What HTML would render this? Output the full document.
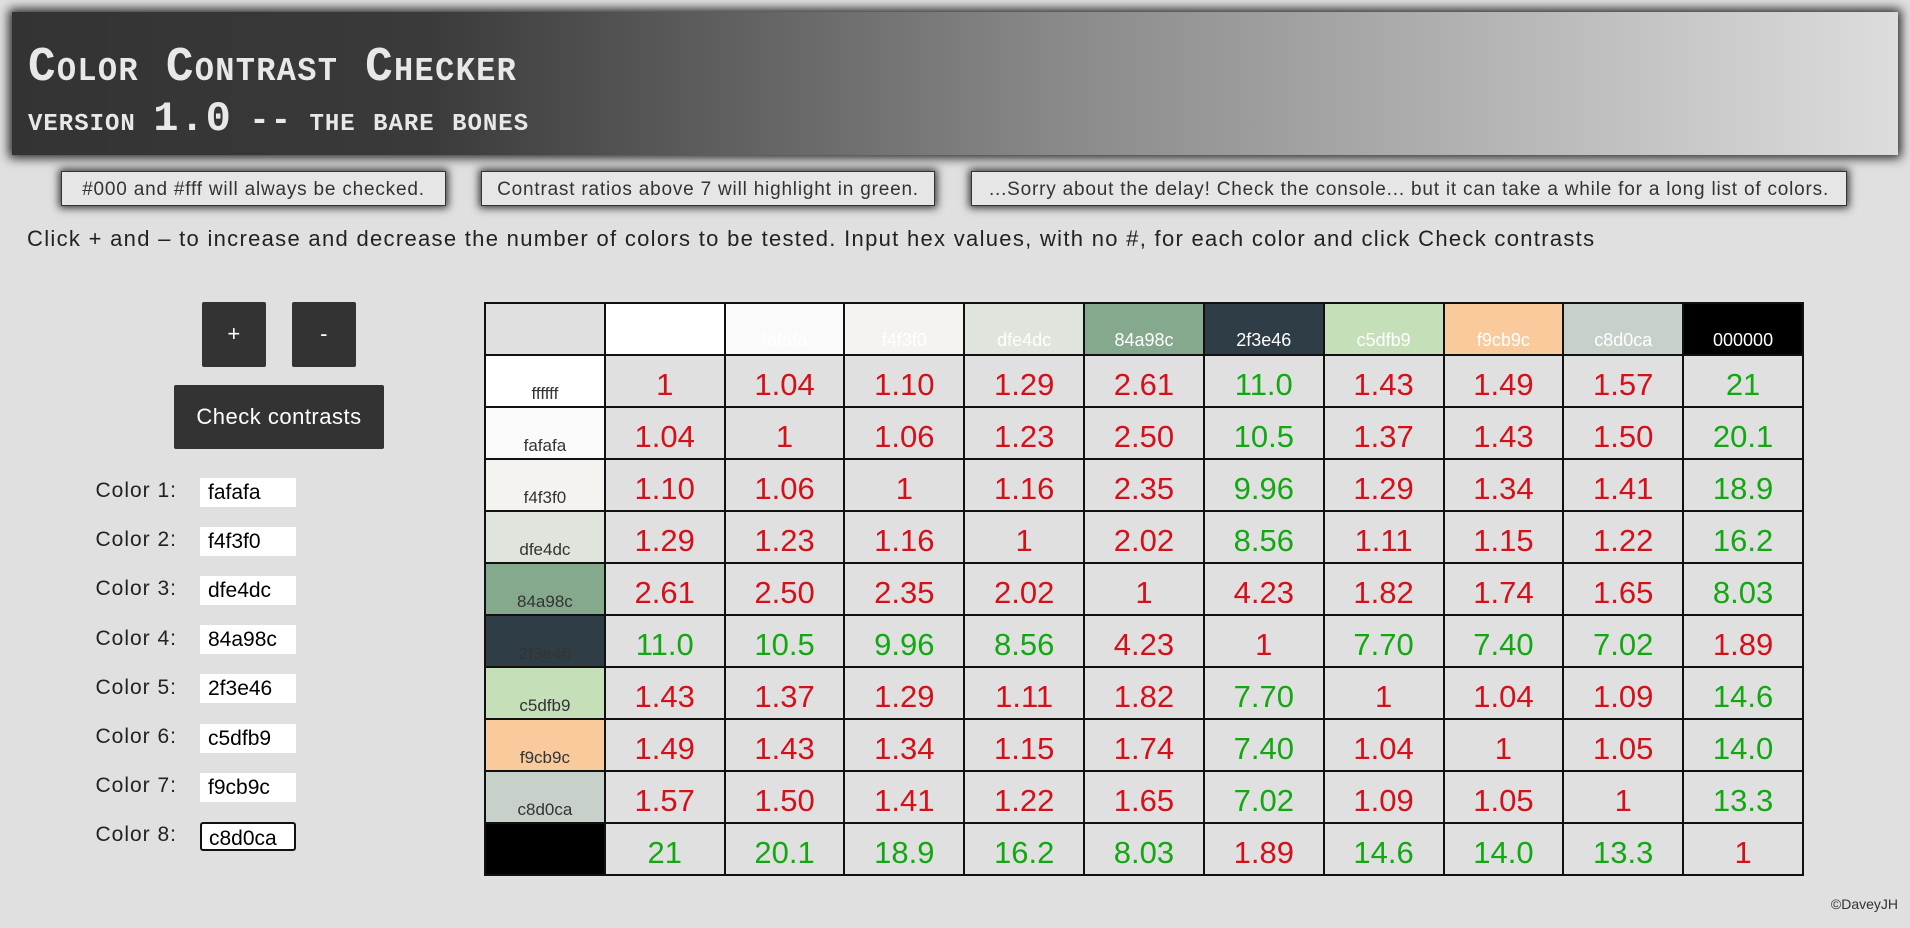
<!DOCTYPE html>
<html><head><meta charset="utf-8">
<style>
body{margin:0;width:1910px;height:928px;background:#e0e0e0;font-family:"Liberation Sans",sans-serif;position:relative;overflow:hidden;color:#222}
#hdr{position:absolute;left:12px;top:12px;width:1886px;height:143px;background:linear-gradient(90deg,#333 0%,#3a3a3a 22%,#888 55%,#ddd 100%);box-shadow:0 0 10px 3px #222;}
#hdr h1{position:absolute;left:16px;top:28px;margin:0;font-family:"Liberation Mono",monospace;font-variant:small-caps;font-weight:bold;font-size:46px;color:#e8e8e8;letter-spacing:1.3px;word-spacing:-2px;transform:scaleY(1.05);transform-origin:left top}
#hdr h2{position:absolute;left:16px;top:83px;margin:0;font-family:"Liberation Mono",monospace;font-variant:small-caps;font-weight:bold;font-size:34px;color:#e8e8e8;text-transform:lowercase;letter-spacing:1px;word-spacing:-4px}
.note{position:absolute;top:171px;height:35px;line-height:35px;background:#e6e6e6;border:1px solid #333;box-shadow:0 0 8px 2px #333;font-size:19px;color:#333;text-align:center;box-sizing:border-box;letter-spacing:0.8px;white-space:nowrap}
#instr{position:absolute;left:27px;top:226px;font-size:22px;color:#222;letter-spacing:1.3px;white-space:nowrap}
.btn{position:absolute;background:#333;color:#fff;font-size:22px;text-align:center;border-radius:2px;letter-spacing:0.5px}
.lbl{position:absolute;width:177px;text-align:right;font-size:21px;color:#222;left:0;letter-spacing:1px}
.inp{position:absolute;left:200px;width:96px;height:29px;background:#fff;font-size:21px;line-height:29px;padding-left:8px;box-sizing:border-box;color:#000}
#tbl{position:absolute;left:484px;top:302px;border-collapse:collapse;border:2px solid #111;table-layout:fixed;width:1320px}
#tbl td{box-sizing:border-box;height:52px;border:2px solid #111;text-align:center;padding:7px 0 0 0;background:#e0e0e0;font-size:31px;line-height:1;overflow:hidden}
#tbl td.h{font-size:18px;vertical-align:bottom;padding:0 0 5px 0;color:#fff}
#tbl td.r{font-size:17px;vertical-align:bottom;padding:0 0 4px 0;color:#333}
#foot{position:absolute;right:12px;top:896px;font-size:14px;color:#333}
</style></head><body>
<div id="hdr">
<h1>Color Contrast Checker</h1>
<h2>version <span style="font-size:42px">1.0</span> -- the bare bones</h2>
</div>
<div class="note" style="left:61px;width:385px">#000 and #fff will always be checked.</div>
<div class="note" style="left:481px;width:454px">Contrast ratios above 7 will highlight in green.</div>
<div class="note" style="left:971px;width:876px">...Sorry about the delay! Check the console... but it can take a while for a long list of colors.</div>
<div id="instr">Click + and – to increase and decrease the number of colors to be tested. Input hex values, with no #, for each color and click Check contrasts</div>
<div class="btn" style="left:202px;top:302px;width:64px;height:65px;line-height:63px">+</div>
<div class="btn" style="left:292px;top:302px;width:64px;height:65px;line-height:63px">-</div>
<div class="btn" style="left:174px;top:385px;width:210px;height:64px;line-height:64px">Check contrasts</div>
<div id="inputs"></div>
<table id="tbl"></table>
<div id="foot">©DaveyJH</div>
<script>
const inputColors=["fafafa","f4f3f0","dfe4dc","84a98c","2f3e46","c5dfb9","f9cb9c","c8d0ca"];
const colors=["ffffff","fafafa","f4f3f0","dfe4dc","84a98c","2f3e46","c5dfb9","f9cb9c","c8d0ca","000000"];
const ratios=[
["1","1.04","1.10","1.29","2.61","11.0","1.43","1.49","1.57","21"],
["1.04","1","1.06","1.23","2.50","10.5","1.37","1.43","1.50","20.1"],
["1.10","1.06","1","1.16","2.35","9.96","1.29","1.34","1.41","18.9"],
["1.29","1.23","1.16","1","2.02","8.56","1.11","1.15","1.22","16.2"],
["2.61","2.50","2.35","2.02","1","4.23","1.82","1.74","1.65","8.03"],
["11.0","10.5","9.96","8.56","4.23","1","7.70","7.40","7.02","1.89"],
["1.43","1.37","1.29","1.11","1.82","7.70","1","1.04","1.09","14.6"],
["1.49","1.43","1.34","1.15","1.74","7.40","1.04","1","1.05","14.0"],
["1.57","1.50","1.41","1.22","1.65","7.02","1.09","1.05","1","13.3"],
["21","20.1","18.9","16.2","8.03","1.89","14.6","14.0","13.3","1"]];
const inp=document.getElementById('inputs');
inputColors.forEach((c,i)=>{
 const y=492+i*49.2;
 const l=document.createElement('div');l.className='lbl';l.style.top=(y-13)+'px';l.textContent='Color '+(i+1)+':';
 
 
 const b=document.createElement('div');b.className='inp';b.style.top=(y-14.5)+'px';b.textContent=c;
 if(i===inputColors.length-1){b.style.border='2px solid #111';b.style.borderRadius='3px';b.style.paddingLeft='7px';}
 
 
 inp.appendChild(l);inp.appendChild(b);
});
const t=document.getElementById('tbl');
const hr=document.createElement('tr');
const c0=document.createElement('td');


hr.appendChild(c0);
colors.forEach(c=>{const d=document.createElement('td');d.className='h';d.style.background='#'+c;d.textContent=c;
 
 
 hr.appendChild(d);});
t.appendChild(hr);
colors.forEach((c,i)=>{
 const tr=document.createElement('tr');
 const h=document.createElement('td');h.className='r';h.style.background='#'+c;h.textContent=c;
 if(c==='000000')h.style.color='#000';
 
 
 tr.appendChild(h);
 ratios[i].forEach((v,j)=>{const d=document.createElement('td');d.textContent=v;d.style.color=parseFloat(v)>7?'#13a813':'#d4101a';
  
  
  tr.appendChild(d);});
 t.appendChild(tr);
});
</script>
</body></html>
